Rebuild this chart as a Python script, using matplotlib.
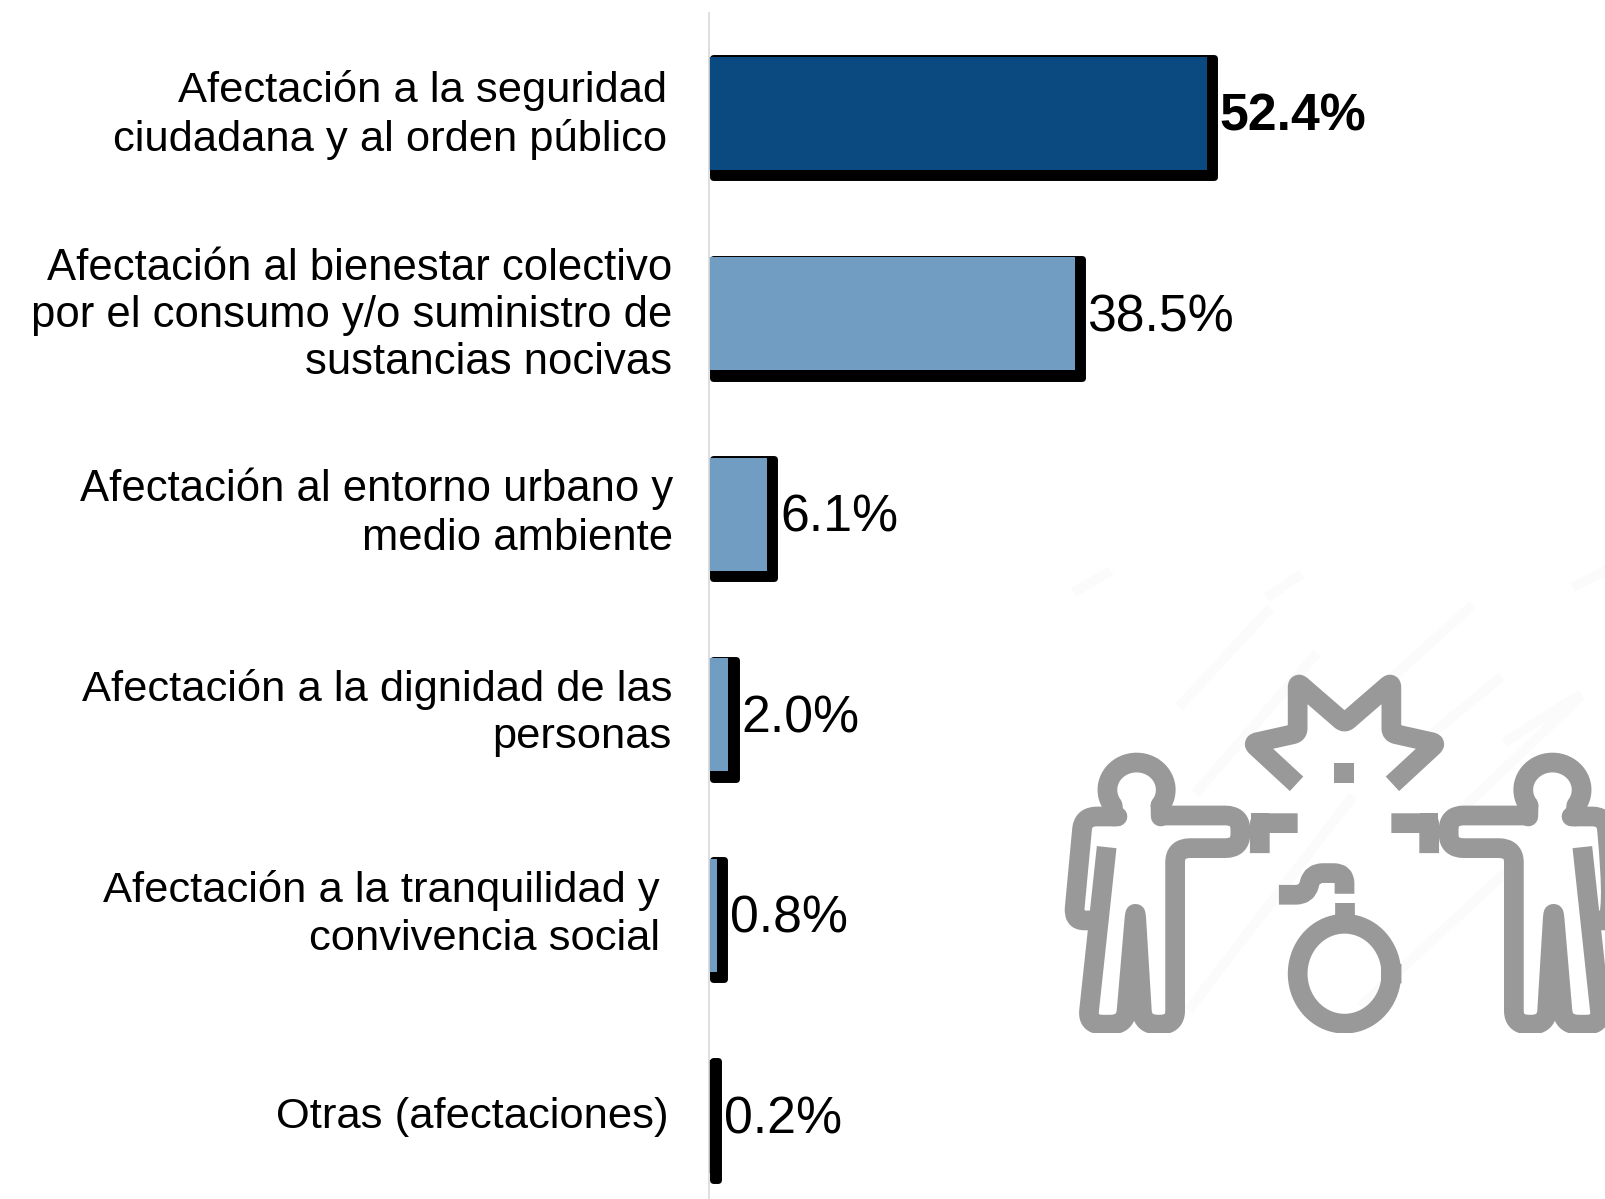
#!/usr/bin/env python3
"""Horizontal bars of reported effects, with the grey icon in the lower right."""

import numpy as np
import matplotlib
matplotlib.use('Agg')
import matplotlib.pyplot as plt
from matplotlib.path import Path
from matplotlib.patches import PathPatch

plt.rcParams['font.family'] = ['Liberation Sans', 'DejaVu Sans']

categories = [
    'Afectación a la seguridad\nciudadana y al orden público',
    'Afectación al bienestar colectivo\npor el consumo y/o suministro de\nsustancias nocivas',
    'Afectación al entorno urbano y\nmedio ambiente',
    'Afectación a la dignidad de las\npersonas',
    'Afectación a la tranquilidad y\nconvivencia social',
    'Otras (afectaciones)',
]
values = [52.4, 38.5, 6.1, 2.0, 0.8, 0.2]
value_labels = ['52.4%', '38.5%', '6.1%', '2.0%', '0.8%', '0.2%']

# layout, in pixels of the 1605x1199 figure
W, H = 1605, 1199
AXIS_X = 709
PX_PER_PCT = 9.5
FIRST_Y = 113
ROW_H = 200.6
BAR_H = 113
label_right = [667, 672, 673, 672, 660, 669]
label_dy = [2, 2, -1, -1.5, -1, 1]
label_size = [31.3, 31.4, 31.4, 31.3, 31.3, 31.3]
label_spacing = [1.24, 1.2, 1.26, 1.22, 1.24, 1.2]

DARK = '#0B4A80'
LIGHT = '#729DC2'
GREY = '#999999'
STROKE = 14.2

fig = plt.figure(figsize=(W / 100, H / 100), dpi=100, facecolor='white')
ax = fig.add_axes([0, 0, 1, 1])
ax.set_xlim(-AXIS_X / PX_PER_PCT, (W - AXIS_X) / PX_PER_PCT)
ax.set_ylim((H - FIRST_Y) / ROW_H, -FIRST_Y / ROW_H)
ax.axis('off')

ypos = np.arange(len(values))
vals = np.array(values)
colors = [DARK] + [LIGHT] * 4 + ['black']

# black drop shadow behind each bar, the thick round edge gives the soft corners
ax.barh(ypos + 4.5 / ROW_H, vals + 4 / PX_PER_PCT, left=3.5 / PX_PER_PCT, height=119 / ROW_H,
        color='black', edgecolor='black', linewidth=5, joinstyle='round', zorder=2)
ax.barh(ypos, vals, height=BAR_H / ROW_H, color=colors, linewidth=0, zorder=3)

# vertical axis line
ax.plot([0, 0], [-100 / ROW_H, ypos[-1] + 1], color='#D9D9D9', linewidth=1.2, zorder=4)

for i, cat in enumerate(categories):
    ax.text((label_right[i] - AXIS_X) / PX_PER_PCT, i + label_dy[i] / ROW_H, cat, ha='right',
            va='center', multialignment='right', fontsize=label_size[i],
            linespacing=label_spacing[i])

for i, lab in enumerate(value_labels):
    ax.text(vals[i] + 13 / PX_PER_PCT, i + 4 / ROW_H, lab, ha='left', va='center',
            fontsize=37.3, fontweight='bold' if i == 0 else 'normal')


def stroke(a, pts, r=0, cap='butt'):
    """Thick grey line through pts, corners rounded with radius r."""
    pts = np.asarray(pts, dtype=float)
    verts = [pts[0]]
    codes = [Path.MOVETO]
    for j in range(1, len(pts) - 1):
        p, prev, nxt = pts[j], pts[j - 1], pts[j + 1]
        d1 = min(r, np.linalg.norm(prev - p) / 2)
        d2 = min(r, np.linalg.norm(nxt - p) / 2)
        u1 = (prev - p) / np.linalg.norm(prev - p)
        u2 = (nxt - p) / np.linalg.norm(nxt - p)
        verts += [p + u1 * d1, p, p + u2 * d2]
        codes += [Path.LINETO, Path.CURVE3, Path.CURVE3]
    verts.append(pts[-1])
    codes.append(Path.LINETO)
    a.add_patch(PathPatch(Path(verts, codes), facecolor='none', edgecolor=GREY, linewidth=STROKE,
                          capstyle=cap, joinstyle='round'))


def person(a, flip):
    """One figure holding a gun."""
    t = np.radians(np.linspace(215, -35, 40))
    head = np.column_stack([268 + 81 * np.cos(t), 690 - 82 * np.sin(t)])
    stroke(a, flip(np.vstack([[[205, 770]], head])), cap='round')
    stroke(a, flip([head[-1], [335, 770]]), cap='round')
    # arm, right side, leg, crotch, other leg
    stroke(a, flip([[335, 767], [556, 767], [556, 865], [375, 865], [375, 1395], [285, 1395],
                    [265, 1040], [237, 1395], [132, 1395], [185, 862]]), r=42)
    # hanging arm
    stroke(a, flip([[215, 770], [120, 770], [93, 1082], [150, 1082]]), r=38, cap='round')
    # gun
    stroke(a, flip([[715, 790], [610, 790], [610, 880]]))
    a.fill(*np.array(flip([[585, 760], [635, 760], [635, 880], [585, 880]])).T, color=GREY, lw=0)


# icon gets its own axes, so it is clipped at the bottom and right like the picture
icon = fig.add_axes([1040 / W, 1 - 1033 / H, (W - 1040) / W, (1033 - 560) / H])
icon.set_xlim(0, 565 * 2.775)
icon.set_ylim(1420, 0)
icon.axis('off')

# very faint streaks left over in the background of the icon
streaks = [((395, 430), (630, 155)), ((990, 340), (1190, 145)), ((1100, 510), (1270, 360)),
           ((1300, 540), (1490, 410)), ((420, 1340), (860, 720)), ((900, 1330), (1280, 950)),
           ((105, 90), (185, 40)), ((640, 105), (715, 50)), ((1490, 75), (1565, 35)),
           ((440, 690), (760, 290)), ((1150, 770), (1490, 420))]
for s0, s1 in streaks:
    icon.plot([s0[0], s1[0]], [s0[1], s1[1]], color='#FBFBFB', linewidth=7, zorder=0)

person(icon, lambda p: np.asarray(p, dtype=float))
person(icon, lambda p: np.asarray(p, dtype=float) * [-1, 1] + [1690, 0])

# burst
stroke(icon, [[712, 672], [590, 550], [715, 520], [715, 368], [845, 490], [975, 368],
              [975, 520], [1100, 550], [978, 672]], r=14)
icon.fill([817, 870, 870, 817], [610, 610, 668, 668], color=GREY, lw=0)

# bomb
t = np.linspace(0, 2 * np.pi, 80)
icon.plot(845 + 130 * np.cos(t), 1242 + 150 * np.sin(t), color=GREY, linewidth=STROKE)
stroke(icon, [[845, 1030], [845, 1095]])
stroke(icon, [[663, 1005], [740, 1005], [755, 940], [845, 940], [845, 1002]], r=30)

fig.savefig('out.png', dpi=100, facecolor='white')
